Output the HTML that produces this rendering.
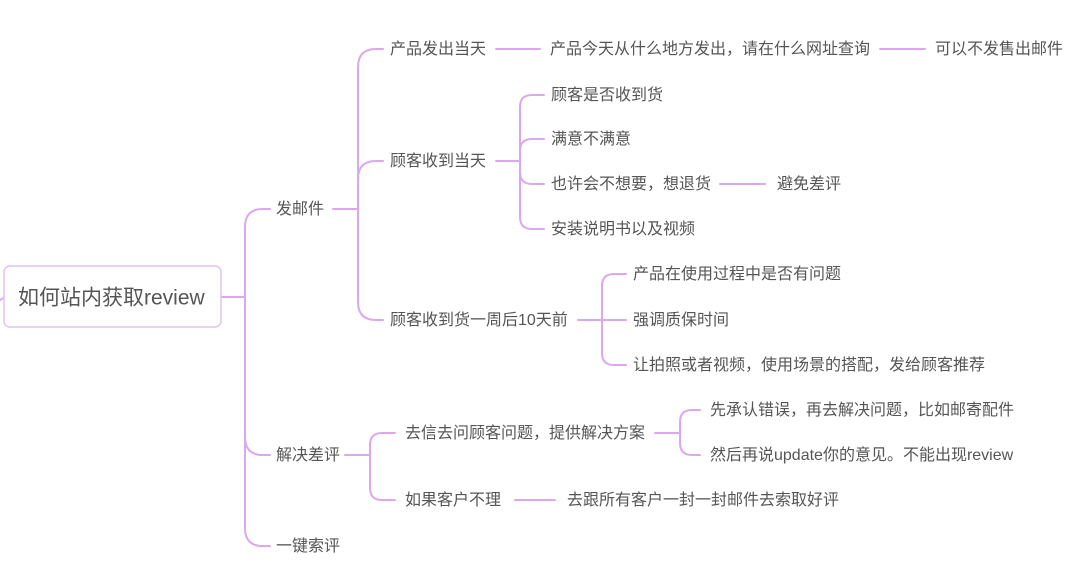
<!DOCTYPE html>
<html><head><meta charset="utf-8"><style>
html,body{margin:0;padding:0;background:#fff;}
svg{display:block;}
text{font-family:"Liberation Sans","Noto Sans CJK SC",sans-serif;font-size:16px;fill:#555;dominant-baseline:middle;}
</style></head><body>
<svg width="1080" height="576" viewBox="0 0 1080 576" xmlns="http://www.w3.org/2000/svg">
<g fill="none" stroke="#dba8f0" stroke-width="2" stroke-linecap="round">
<path d="M0 300 Q4 298 4 297"/>
<path d="M221 297 H245"/>
<path d="M245 297 V227 Q245 209 263 209 H270"/>
<path d="M245 297 V437 Q245 455 263 455 H270"/>
<path d="M245 297 V528 Q245 546 263 546 H270"/>
<path d="M333 209 H358"/>
<path d="M358 209 V67 Q358 49 376 49 H383"/>
<path d="M358 209 V179 Q358 161 376 161 H383"/>
<path d="M358 209 V302 Q358 320 376 320 H383"/>
<path d="M496 49 H540"/>
<path d="M880 49 H925"/>
<path d="M496 161 H520"/>
<path d="M520 161 V107 Q520 95 532 95 H544"/>
<path d="M520 161 V151 Q520 139 532 139 H544"/>
<path d="M520 161 V172 Q520 184 532 184 H544"/>
<path d="M520 161 V217 Q520 229 532 229 H544"/>
<path d="M720 184 H765"/>
<path d="M578 320 H602"/>
<path d="M602 320 V286 Q602 274 614 274 H626"/>
<path d="M602 320 H626"/>
<path d="M602 320 V353 Q602 365 614 365 H626"/>
<path d="M345 455 H370"/>
<path d="M370 455 V445 Q370 433 382 433 H395"/>
<path d="M370 455 V488 Q370 500 382 500 H395"/>
<path d="M655 433 H680"/>
<path d="M680 433 V422 Q680 410 692 410 H700"/>
<path d="M680 433 V443 Q680 455 692 455 H700"/>
<path d="M515 500 H555"/>
</g>
<rect x="4" y="266" width="217" height="61" rx="6" fill="#fff" stroke="#e2c2f2" stroke-width="1.5"/>
<text x="18" y="299" style="font-size:21px">如何站内获取review</text>
<text x="276" y="210">发邮件</text>
<text x="276" y="456">解决差评</text>
<text x="276" y="547">一键索评</text>
<text x="390" y="50">产品发出当天</text>
<text x="550" y="50">产品今天从什么地方发出，请在什么网址查询</text>
<text x="935" y="50">可以不发售出邮件</text>
<text x="390" y="162">顾客收到当天</text>
<text x="551" y="96">顾客是否收到货</text>
<text x="551" y="140">满意不满意</text>
<text x="551" y="185">也许会不想要，想退货</text>
<text x="777" y="185">避免差评</text>
<text x="551" y="230">安装说明书以及视频</text>
<text x="390" y="321">顾客收到货一周后10天前</text>
<text x="633" y="275">产品在使用过程中是否有问题</text>
<text x="633" y="321">强调质保时间</text>
<text x="633" y="366">让拍照或者视频，使用场景的搭配，发给顾客推荐</text>
<text x="405" y="434">去信去问顾客问题，提供解决方案</text>
<text x="710" y="411">先承认错误，再去解决问题，比如邮寄配件</text>
<text x="710" y="456">然后再说update你的意见。不能出现review</text>
<text x="405" y="501">如果客户不理</text>
<text x="567" y="501">去跟所有客户一封一封邮件去索取好评</text>
</svg>
</body></html>
